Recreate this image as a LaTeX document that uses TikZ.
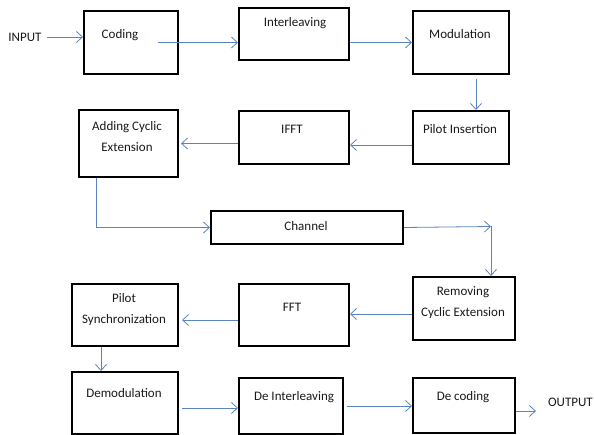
\documentclass[tikz,border=0pt]{standalone}
\usepackage{fontspec}
\setmainfont{Carlito}
\usetikzlibrary{arrows.meta}
\definecolor{arrowblue}{RGB}{90,132,190}
\begin{document}
\begin{tikzpicture}[x=1pt,y=-1pt,
  box/.style={draw=black, line width=2pt, anchor=north west, inner sep=0pt},
  lbl/.style={font=\fontsize{13}{21}\selectfont, align=center, text=black!90, inner sep=0pt},
  arr/.style={draw=arrowblue, line width=0.8pt, -{Straight Barb[length=6pt,width=11pt]}}]
\useasboundingbox (0,0) rectangle (594,435);

% boxes
\node[box, minimum width=94pt,  minimum height=63pt] (coding) at (83,10) {};
\node[box, minimum width=110pt, minimum height=52pt] (inter)  at (238,7) {};
\node[box, minimum width=96pt,  minimum height=63pt] (modu)   at (412,10) {};
\node[box, minimum width=96pt,  minimum height=53pt] (pilot)  at (412,110) {};
\node[box, minimum width=110pt, minimum height=53pt] (ifft)   at (238,110) {};
\node[box, minimum width=99pt,  minimum height=67pt] (addcyc) at (78,109) {};
\node[box, minimum width=192pt, minimum height=33pt] (chan)   at (210,210) {};
\node[box, minimum width=102pt, minimum height=63pt] (remov)  at (412,276) {};
\node[box, minimum width=110pt, minimum height=62pt] (fft)    at (238,283) {};
\node[box, minimum width=106pt, minimum height=62pt] (psync)  at (71,283) {};
\node[box, minimum width=106pt, minimum height=62pt] (demod)  at (71,371) {};
\node[box, minimum width=104pt, minimum height=56pt] (deint)  at (238,377) {};
\node[box, minimum width=102pt, minimum height=55pt] (decod)  at (412,377) {};

% labels
\node[lbl] (codingT) at (120,35) {Coding};
\node[lbl] (interT)  at (295,23) {Interleaving};
\node[lbl] (moduT)   at (460,34) {Modulation};
\node[lbl] (pilotT)  at (460,129) {Pilot Insertion};
\node[lbl] (ifftT)   at (292,129) {IFFT};
\node[lbl] (addcycT) at (127,137) {Adding Cyclic\\Extension};
\node[lbl] (chanT)   at (306,226) {Channel};
\node[lbl] (removT)  at (463,303) {Removing\\Cyclic Extension};
\node[lbl] (fftT)    at (292,307) {FFT};
\node[lbl] (psyncT)  at (124,310) {Pilot\\Synchronization};
\node[lbl] (demodT)  at (124,393) {Demodulation};
\node[lbl] (deintT)  at (294,397) {De Interleaving};
\node[lbl] (decodT)  at (463,397) {De coding};
\node[lbl] (inp)     at (25,37) {INPUT};
\node[lbl, anchor=east] (outp) at (593,402) {OUTPUT};

\coordinate (corner) at (491,226.5);

% connectors
\draw[arr] ([xshift=5pt]inp.east) -- (inp.east -| coding.west);
\draw[arr] ([xshift=-21pt]coding.east) -- (coding.east -| inter.west);
\draw[arr] (modu.west -| inter.east) -- (modu.west);
\draw[arr] ([xshift=15pt,yshift=-4pt]modu.south) -- ([xshift=15pt]pilot.north);
\draw[arr] ([yshift=-7.5pt]pilot.west) -- ([yshift=-7.5pt]pilot.west -| ifft.east);
\draw[arr] (ifft.west |- addcyc.east) -- ([xshift=2pt]addcyc.east);
\draw[arr] ([xshift=-32.5pt]addcyc.south) |- (chan.west);
\draw[arr] (chan.east) -- (corner);
\draw[arr] (corner) -- (corner |- remov.north);
\draw[arr] ([yshift=-5.5pt]remov.west) -- ([yshift=-5.5pt]remov.west -| fft.east);
\draw[arr] ([yshift=-5pt]fft.west) -- ([yshift=-5pt,xshift=3pt]fft.west -| psync.east);
\draw[arr] ([xshift=-24pt]psync.south) -- ([xshift=-24pt]demod.north);
\draw[arr] ([yshift=-5pt,xshift=3pt]demod.east) -- ([yshift=-5pt]demod.east -| deint.west);
\draw[arr] ([xshift=3pt]deint.east) -- (deint.east -| decod.west);
\draw[arr] ([yshift=-5.5pt]decod.east) -- ([xshift=-12pt,yshift=-5.5pt]decod.east -| outp.west);
\end{tikzpicture}
\end{document}
